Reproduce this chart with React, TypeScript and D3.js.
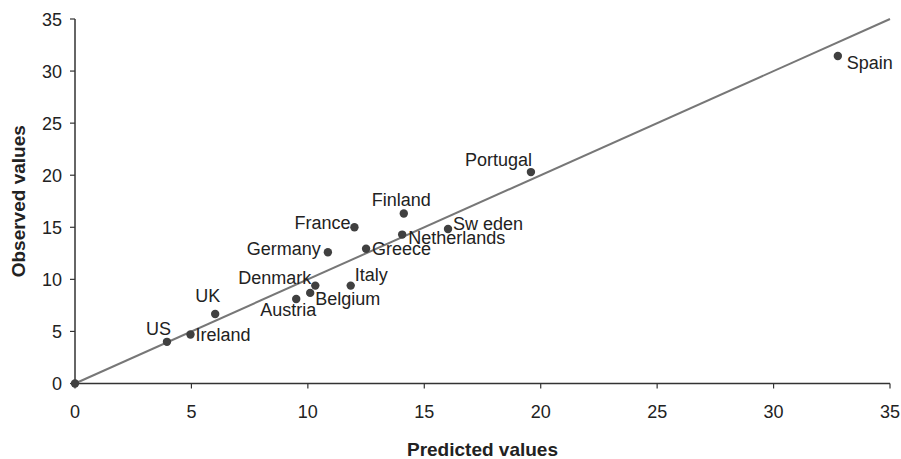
import React from "react";
import * as d3 from "d3";

const countries = ["US", "Ireland", "UK", "Austria", "Belgium", "Denmark", "Italy", "Germany", "Greece", "France", "Finland", "Netherlands", "Sw eden", "Portugal", "Spain", ""];
const predicted = [3.95, 4.96, 6.02, 9.5, 10.1, 10.32, 11.84, 10.86, 12.5, 12.0, 14.12, 14.05, 16.02, 19.58, 32.76, 0];
const observed = [4.0, 4.7, 6.68, 8.12, 8.7, 9.4, 9.4, 12.6, 12.94, 15.0, 16.33, 14.3, 14.83, 20.3, 31.45, 0];
// label offsets in px relative to dot: [dx, dy, anchor]
const labelPos: [number, number, string][] = [
  [4, -7, "end"],
  [5, 6, "start"],
  [5, -12, "end"],
  [20, 17, "end"],
  [5, 12, "start"],
  [-4, -2, "end"],
  [4, -5, "start"],
  [-7, 3, "end"],
  [6, 6, "start"],
  [-4, 2, "end"],
  [27, -7, "end"],
  [6, 9, "start"],
  [5, 1, "start"],
  [1, -6, "end"],
  [9, 13, "start"],
  [0, 0, "start"],
];
const xTicks = [0, 5, 10, 15, 20, 25, 30, 35];
const yTicks = [0, 5, 10, 15, 20, 25, 30, 35];
const fitLine = [[0, 0], [35, 35]];

export default function App() {
  const W = 901, H = 459;
  const x = d3.scaleLinear().domain([0, 35]).range([75, 890]);
  const y = d3.scaleLinear().domain([0, 35]).range([383.5, 19]);
  const line = d3.line<number[]>().x(d => x(d[0])).y(d => y(d[1]));
  const font = "Arial, 'Liberation Sans', sans-serif";
  const txt = "#222";
  const x0 = x(0), y0 = y(0);
  return (
    <svg width={W} height={H} style={{ position: "absolute", left: 0, top: 0, background: "#fff" }} fontFamily={font}>
      <rect width={W} height={H} fill="#fff" />
      {/* axes */}
      <line x1={x0} x2={x(35)} y1={y0} y2={y0} stroke="#333" strokeWidth={1.5} />
      <line x1={x0} x2={x0} y1={y(35)} y2={y0} stroke="#333" strokeWidth={1.5} />
      {xTicks.map(t => (
        <g key={"x" + t}>
          <line x1={x(t)} x2={x(t)} y1={y0} y2={y0 + 5} stroke="#333" strokeWidth={1.2} />
          <text x={x(t)} y={418} textAnchor="middle" fontSize={18} fill={txt}>{t}</text>
        </g>
      ))}
      {yTicks.map(t => (
        <g key={"y" + t}>
          <line x1={x0 - 5} x2={x0} y1={y(t)} y2={y(t)} stroke="#333" strokeWidth={1.2} />
          <text x={62} y={y(t) + 6.5} textAnchor="end" fontSize={18} fill={txt}>{t}</text>
        </g>
      ))}
      <text x={(x(0) + x(35)) / 2} y={456} textAnchor="middle" fontSize={19} fontWeight="bold" fill={txt}>Predicted values</text>
      <text transform={`translate(25,${(y(0) + y(35)) / 2}) rotate(-90)`} textAnchor="middle" fontSize={19} fontWeight="bold" fill={txt}>Observed values</text>
      <path d={line(fitLine) || ""} stroke="#777" strokeWidth={2} fill="none" />
      {countries.map((c, i) => (
        <g key={"p" + i}>
          <circle cx={x(predicted[i])} cy={y(observed[i])} r={4.2} fill="#404040" />
          {c && (
            <text x={x(predicted[i]) + labelPos[i][0]} y={y(observed[i]) + labelPos[i][1]} textAnchor={labelPos[i][2] as any} fontSize={18} fill={txt}>{c}</text>
          )}
        </g>
      ))}
    </svg>
  );
}
